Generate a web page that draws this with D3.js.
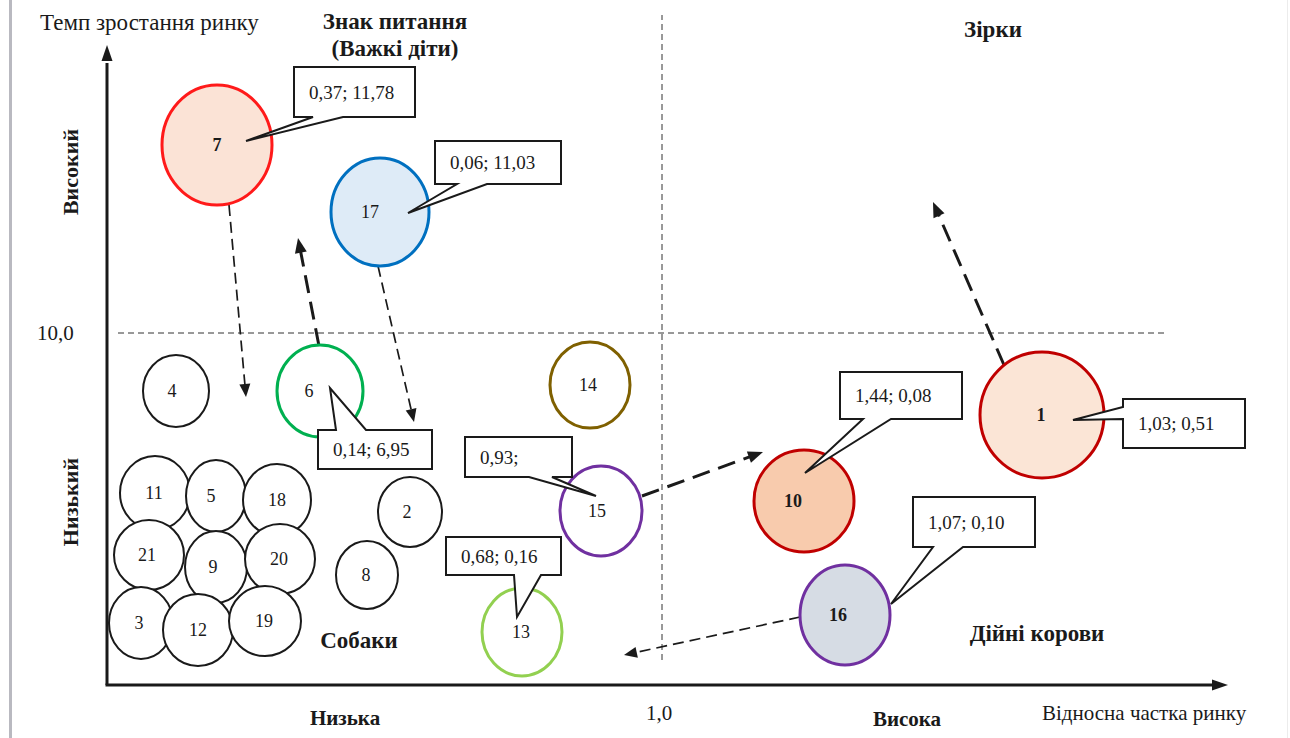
<!DOCTYPE html>
<html>
<head>
<meta charset="utf-8">
<script src="https://cdn.jsdelivr.net/npm/d3@7"></script>
<style>
  body { margin: 0; background: #fff; }
  svg { display: block; }
  text { font-family: "Liberation Serif", "Times New Roman", serif; fill: #1a1a1a; }
</style>
</head>
<body>
<script>
// ---- Data -------------------------------------------------------------
// Business units placed on the BCG matrix
const unitIds = ["7", "17", "4", "6", "14", "11", "5", "18", "9", "21", "20", "2", "15", "8", "3", "12", "19", "13", "10", "1", "16"];
// Units highlighted in bold
const boldUnits = ["7", "10", "1", "16"];
// Callouts: unit and its "relative market share; market growth" values
const calloutUnits = ["7", "17", "6", "15", "13", "10", "1", "16"];
const calloutTexts = ["0,37; 11,78", "0,06; 11,03", "0,14; 6,95", "0,93;", "0,68; 0,16", "1,44; 0,08", "1,03; 0,51", "1,07; 0,10"];
// Movement of units between quadrants
const moveFrom = ["7", "6", "17", "15", "1", "16"];
const moveStyle = ["thin", "bold", "thin", "bold", "bold", "thin"];
// Axis / quadrant texts
const yAxisTitle = "Темп зростання ринку";
const xAxisTitle = "Відносна частка ринку";
const xTickLabel = "1,0";
const yTickLabel = "10,0";
const xLevelLabels = ["Низька", "Висока"];
const yLevelLabels = ["Високий", "Низький"];
const quadrantNames = ["Знак питання", "(Важкі діти)", "Зірки", "Собаки", "Дійні корови"];

// ---- Layout (plot units measured from the axis origin) ----------------
const unitX  = [110, 273, 69, 213, 483, 48, 109, 170, 109, 42, 173, 303, 494, 260, 34, 91, 158, 415, 697, 935, 738];
const unitY  = [540, 473, 294, 294, 300, 192, 189, 185, 118, 130, 126, 173, 174, 110, 62, 55, 64, 53, 184, 270, 70];
const unitRx = [55, 49, 33, 43, 40, 35, 30, 34, 31, 35, 35, 32, 41, 31, 32, 35, 36, 40, 50, 62, 45];
const unitRy = [60, 54, 36, 46, 43, 37, 36, 36, 36, 35, 35, 35, 45, 34, 36, 36, 35, 44, 51, 63, 50];
const labelDx = [0, -10, -4, -11, -2, -1, -5, 0, -3, -2, -1, -3, -4, -1, -2, 0, -1, -1, -11, -1, -7];
const strokeCol = ["#ff1a1a", "#0070c0", "#1a1a1a", "#00b050", "#7f6000", "#1a1a1a", "#1a1a1a", "#1a1a1a", "#1a1a1a", "#1a1a1a", "#1a1a1a", "#1a1a1a", "#7030a0", "#1a1a1a", "#1a1a1a", "#1a1a1a", "#1a1a1a", "#92d050", "#c00000", "#c00000", "#7030a0"];
const fillCol = ["#fbe3d6", "#deebf7", "#fff", "#fff", "#fff", "#fff", "#fff", "#fff", "#fff", "#fff", "#fff", "#fff", "#fff", "#fff", "#fff", "#fff", "#fff", "#fff", "#f8cbad", "#fbe5d6", "#d6dce4"];

// callout boxes [x0, x1, yBottom, yTop], pointer edge, base points and tip
const calloutBox = [[187, 308, 568, 618], [328, 454, 501, 544], [211, 325, 216, 255], [358, 465, 208, 248],
                    [339, 454, 110, 148], [733, 855, 266, 313], [1016, 1138, 237, 286], [806, 928, 138, 188]];
const calloutEdge = ["bottom", "bottom", "top", "bottom", "bottom", "bottom", "left", "bottom"];
const calloutBase = [[206, 236], [350, 380], [229, 259], [422, 445], [407, 434], [756, 784], [266, 278], [826, 856]];
const calloutTip = [[139, 544], [301, 472], [223, 297], [489, 189], [410, 68], [698, 212], [966, 265], [784, 81]];

// arrows [x1, y1, x2, y2]
const arrowPath = [[122, 480, 139, 288], [212, 339, 191, 447], [271, 419, 307, 263],
                   [535, 189, 656, 233], [897, 320, 826, 483], [693, 68, 517, 30]];

// ---- Drawing ----------------------------------------------------------
const W = 1290, H = 738;
const svg = d3.select("body").append("svg").attr("width", W).attr("height", H);

const x = d3.scaleLinear().domain([0, 1120]).range([107, 1227]);
const y = d3.scaleLinear().domain([0, 640]).range([685, 45]);
const xLen = v => x(v) - x(0);
const yLen = v => y(0) - y(v);

// page margin rule
svg.append("rect").attr("x", 9).attr("y", 0).attr("width", 3).attr("height", H).attr("fill", "#b9b9c0");
svg.append("rect").attr("x", 1287).attr("y", 0).attr("width", 1).attr("height", H).attr("fill", "#ececec");

// quadrant dividers
const xDivide = 555, yDivide = 352;
svg.append("line")
  .attr("x1", x(11)).attr("x2", x(1061)).attr("y1", y(yDivide)).attr("y2", y(yDivide))
  .attr("stroke", "#333").attr("stroke-width", 1).attr("stroke-dasharray", "6,4");
svg.append("line")
  .attr("x1", x(xDivide)).attr("x2", x(xDivide)).attr("y1", y(25)).attr("y2", y(670))
  .attr("stroke", "#333").attr("stroke-width", 1).attr("stroke-dasharray", "6,4");

// axes with arrow heads
function head(g, tx, ty, ang, len, wid) {
  const c = Math.cos(ang), s = Math.sin(ang);
  const bx = tx - c * len, by = ty - s * len;
  g.append("path")
    .attr("d", `M${tx},${ty}L${bx - s * wid / 2},${by + c * wid / 2}L${bx + s * wid / 2},${by - c * wid / 2}Z`)
    .attr("fill", "#1a1a1a");
}
const axes = svg.append("g");
axes.append("line").attr("x1", x(0)).attr("y1", y(0)).attr("x2", x(0)).attr("y2", y(622))
  .attr("stroke", "#1a1a1a").attr("stroke-width", 3);
head(axes, x(0), y(640), -Math.PI / 2, 16, 11);
axes.append("line").attr("x1", x(0) - 1.5).attr("y1", y(0)).attr("x2", x(1105)).attr("y2", y(0))
  .attr("stroke", "#1a1a1a").attr("stroke-width", 3);
head(axes, x(1121), y(0), 0, 16, 11);

// movement arrows
const arrows = svg.append("g");
arrowPath.forEach((a, i) => {
  const x1 = x(a[0]), y1 = y(a[1]), x2 = x(a[2]), y2 = y(a[3]);
  const ang = Math.atan2(y2 - y1, x2 - x1);
  const bold = moveStyle[i] === "bold";
  const hl = bold ? 15 : 13;
  arrows.append("line")
    .attr("x1", x1).attr("y1", y1)
    .attr("x2", x2 - Math.cos(ang) * (hl - 2)).attr("y2", y2 - Math.sin(ang) * (hl - 2))
    .attr("stroke", "#1a1a1a")
    .attr("stroke-width", bold ? 3 : 1.7)
    .attr("stroke-dasharray", bold ? "18,9" : "11,6");
  head(arrows, x2, y2, ang, hl, bold ? 12 : 11);
});

// units
const units = svg.append("g").selectAll("g").data(unitIds).join("g");
units.append("ellipse")
  .attr("cx", (d, i) => x(unitX[i])).attr("cy", (d, i) => y(unitY[i]))
  .attr("rx", (d, i) => xLen(unitRx[i])).attr("ry", (d, i) => yLen(unitRy[i]))
  .attr("fill", (d, i) => fillCol[i])
  .attr("stroke", (d, i) => strokeCol[i])
  .attr("stroke-width", (d, i) => strokeCol[i] === "#1a1a1a" ? 2 : 3);
units.append("text")
  .attr("x", (d, i) => x(unitX[i]) + labelDx[i]).attr("y", (d, i) => y(unitY[i]))
  .attr("dy", "0.35em").attr("text-anchor", "middle")
  .attr("font-size", 18)
  .attr("font-weight", d => boldUnits.includes(d) ? "bold" : "normal")
  .text(d => d);

// callouts
const callouts = svg.append("g");
calloutUnits.forEach((u, i) => {
  const [bx0, bx1, by0, by1] = calloutBox[i];
  const L = x(bx0), R = x(bx1), T = y(by1), B = y(by0);
  const [b1, b2] = calloutBase[i];
  const tip = [x(calloutTip[i][0]), y(calloutTip[i][1])];
  let pts;
  const e = calloutEdge[i];
  if (e === "bottom") {
    pts = [[L, T], [R, T], [R, B], [x(b2), B], tip, [x(b1), B], [L, B]];
  } else if (e === "top") {
    pts = [[L, T], [x(b1), T], tip, [x(b2), T], [R, T], [R, B], [L, B]];
  } else {
    pts = [[L, T], [R, T], [R, B], [L, B], [L, y(b1)], tip, [L, y(b2)]];
  }
  callouts.append("path")
    .attr("d", d3.line()(pts) + "Z")
    .attr("fill", "#fff").attr("stroke", "#1a1a1a").attr("stroke-width", 2)
    .attr("stroke-linejoin", "miter");
  callouts.append("text")
    .attr("x", L + 15).attr("y", (T + B) / 2).attr("dy", "0.35em")
    .attr("font-size", 19)
    .text(calloutTexts[i]);
});

// axis titles and tick labels
const labels = svg.append("g");
labels.append("text").attr("x", 40).attr("y", 30).attr("font-size", 23).text(yAxisTitle);
labels.append("text").attr("x", 1042).attr("y", 720).attr("font-size", 21).text(xAxisTitle);
labels.append("text").attr("x", 37).attr("y", y(yDivide) + 7).attr("font-size", 21).text(yTickLabel);
labels.append("text").attr("x", x(xDivide) - 3).attr("y", 720).attr("text-anchor", "middle").attr("font-size", 21).text(xTickLabel);

const bold = (sel, tx, ty, t, size, rot) => {
  return sel.append("text")
    .attr("text-anchor", "middle").attr("font-weight", "bold").attr("font-size", size)
    .attr("transform", `translate(${tx},${ty})` + (rot ? " rotate(-90)" : ""))
    .attr("dy", "0.35em")
    .text(t);
};
bold(labels, 345, 718, xLevelLabels[0], 21);
bold(labels, 907, 719, xLevelLabels[1], 21);
bold(labels, 70, 172, yLevelLabels[0], 22, true);
bold(labels, 70, 502, yLevelLabels[1], 22, true);
bold(labels, 395, 21, quadrantNames[0], 23);
bold(labels, 395, 48, quadrantNames[1], 23);
bold(labels, 993, 29, quadrantNames[2], 23);
bold(labels, 359, 640, quadrantNames[3], 23);
bold(labels, 1037, 633, quadrantNames[4], 23);
</script>
</body>
</html>
